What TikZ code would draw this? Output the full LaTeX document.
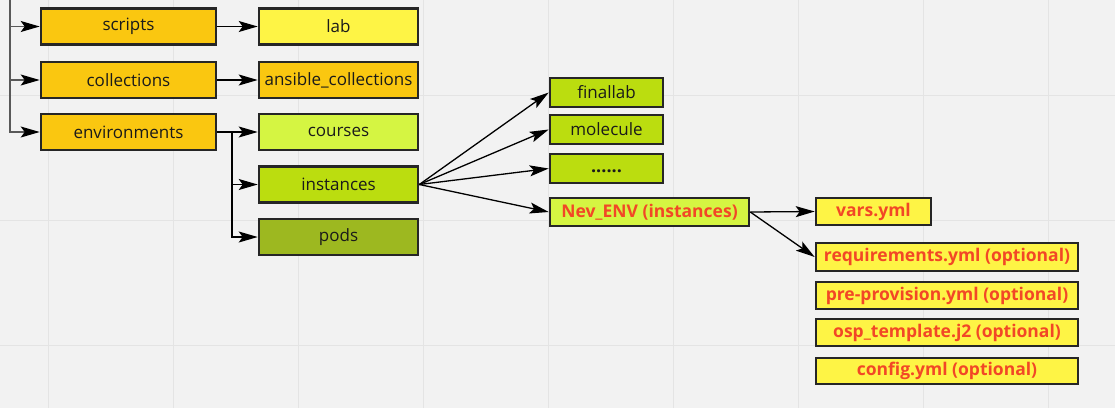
\documentclass[tikz,border=0pt]{standalone}
\usepackage{fontspec}
\setmainfont{Open Sans}
\usetikzlibrary{arrows.meta}
\definecolor{bg}{HTML}{F2F2F2}
\definecolor{gridc}{HTML}{E4E4E4}
\definecolor{edge}{HTML}{262626}
\definecolor{orangey}{HTML}{FAC710}
\definecolor{yel}{HTML}{FEF445}
\definecolor{lgreen}{HTML}{D5F542}
\definecolor{mgreen}{HTML}{BBDD0F}
\definecolor{dgreen}{HTML}{9DB820}
\definecolor{redt}{HTML}{F24726}
\definecolor{txt}{HTML}{1A1A1A}
\tikzset{
  box/.style={draw=edge, line width=2.6pt, rectangle, inner sep=0pt, text=txt,
    font=\fontsize{17}{20}\selectfont, minimum height=36pt},
  redbox/.style={box, text=redt, font=\fontsize{17.5}{20}\selectfont\bfseries, minimum height=27pt},
  arr/.style={draw=black, line width=1.3pt, -{Stealth[length=19pt,width=11pt,inset=4pt]}},
  trunk/.style={draw=black!65, line width=1.3pt, -{Stealth[length=19pt,width=11pt,inset=4pt,color=black]}}
}
\begin{document}
\begin{tikzpicture}[x=1pt,y=-1pt]
\fill[bg] (0,0) rectangle (1115,408);
\useasboundingbox (0,0) rectangle (1115,408);
\foreach \gx in {48,173,298,423,548,673,798,923,1048} \draw[gridc, line width=1pt] (\gx,0) -- (\gx,408);
\foreach \gy in {95,220,345} \draw[gridc, line width=1pt] (0,\gy) -- (1115,\gy);

\node[box, fill=orangey, minimum width=175pt] (scripts) at (128.5,26.5) {scripts};
\node[box, fill=orangey, minimum width=175pt] (collections) at (128.5,80) {collections};
\node[box, fill=orangey, minimum width=175pt] (environments) at (128.5,132) {environments};

\node[box, fill=yel, minimum width=159pt] (lab) at (338.5,26.5) {lab};
\node[box, fill=orangey, minimum width=159pt] (ansible) at (338.5,80) {ansible\_collections};
\node[box, fill=lgreen, minimum width=159pt] (courses) at (338.5,132) {courses};
\node[box, fill=mgreen, minimum width=159pt] (instances) at (338.5,184.5) {instances};
\node[box, fill=dgreen, minimum width=159pt] (pods) at (338.5,237) {pods};

\node[box, fill=mgreen, minimum width=113pt, minimum height=29pt] (finallab) at (606.5,92.5) {finallab};
\node[box, fill=mgreen, minimum width=113pt, minimum height=29pt] (molecule) at (606.5,129.5) {molecule};
\node[box, fill=mgreen, minimum width=113pt, minimum height=29pt, font=\fontsize{18}{20}\selectfont\bfseries] (dots) at (606.5,168.5) {\raisebox{-3.5pt}[0pt][0pt]{......}};
\node[redbox, fill=lgreen, minimum width=199pt, minimum height=28pt] (nev) at (649.5,212) {Nev\_ENV (instances)};

\node[redbox, fill=yel, minimum width=115pt] (vars) at (873.5,211.5) {vars.yml};
\node[redbox, fill=yel, minimum width=262pt, minimum height=28pt] (req) at (947,257) {requirements.yml (optional)};
\node[redbox, fill=yel, minimum width=262pt, minimum height=27pt] (pre) at (947,295.5) {pre-provision.yml (optional)};
\node[redbox, fill=yel, minimum width=262pt, minimum height=27pt] (osp) at (947,332.5) {osp\_template.j2 (optional)};
\node[redbox, fill=yel, minimum width=262pt, minimum height=26pt] (config) at (947,371) {config.yml (optional)};

\coordinate (top) at (10,0);
\draw[trunk] (top) |- (scripts.west);
\draw[trunk] (top) |- (collections.west);
\draw[trunk] (top) |- (environments.west);

\draw[arr] (scripts.east) -- (lab.west);
\draw[arr] (collections.east) -- (ansible.west);

\coordinate (ej) at (232,132);
\draw[arr] (environments.east) -- (courses.west);
\draw[arr] (environments.east) -- (ej) |- (instances.west);
\draw[arr] (environments.east) -- (ej) |- (pods.west);

\draw[arr] (instances.east) -- (finallab.west);
\draw[arr] (instances.east) -- (molecule.west);
\draw[arr] (instances.east) -- (dots.west);
\draw[arr] (instances.east) -- (nev.west);

\draw[arr] (nev.east) -- (vars.west);
\draw[arr] (nev.east) -- (req.west);
\end{tikzpicture}
\end{document}
